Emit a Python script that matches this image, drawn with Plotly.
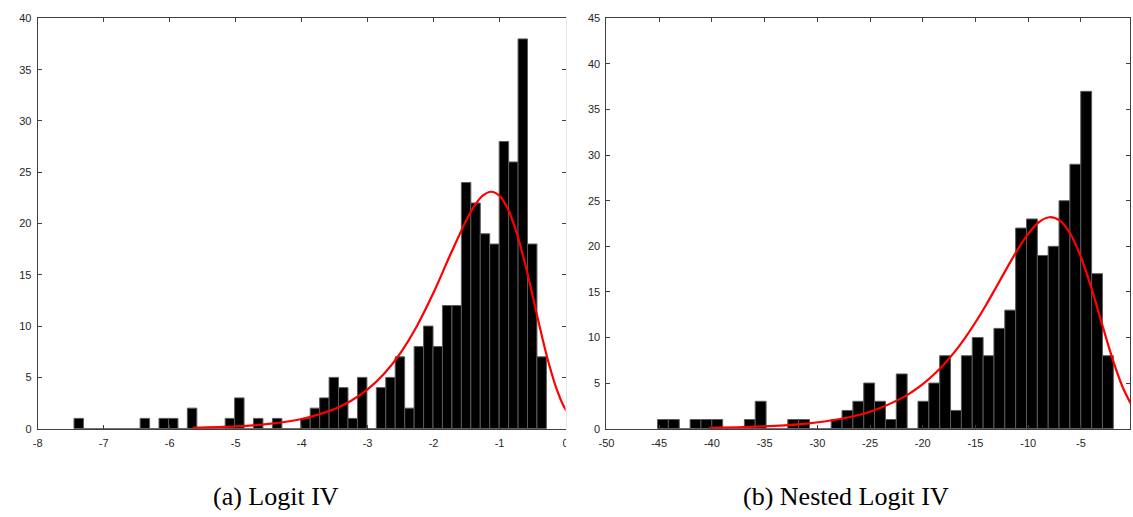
import plotly.graph_objects as go

# ---------------- data: panel (a) Logit IV ----------------
logit_bin_centers = [
    -7.378, -7.235, -7.092, -6.949, -6.806, -6.662, -6.519, -6.376, -6.233, -6.090,
    -5.946, -5.803, -5.660, -5.517, -5.374, -5.230, -5.087, -4.944, -4.801, -4.658,
    -4.514, -4.371, -4.228, -4.085, -3.942, -3.798, -3.655, -3.512, -3.369, -3.226,
    -3.082, -2.939, -2.796, -2.653, -2.510, -2.366, -2.223, -2.080, -1.937, -1.794,
    -1.650, -1.507, -1.364, -1.221, -1.078, -0.934, -0.791, -0.648, -0.505, -0.362,
]
logit_counts = [
    1, 0, 0, 0, 0, 0, 0, 1, 0, 1,
    1, 0, 2, 0, 0, 0, 1, 3, 0, 1,
    0, 1, 0, 0, 1, 2, 3, 5, 4, 1,
    5, 0, 4, 5, 7, 2, 8, 10, 8, 12,
    12, 24, 22, 19, 18, 28, 26, 38, 18, 7,
]
logit_bin_width = 0.1432
logit_fit_x = [-5.65, -5.0, -4.5, -4.0, -3.5, -3.25, -3.0, -2.75, -2.5, -2.25, -2.0,
               -1.75, -1.5, -1.375, -1.25, -1.125, -1.0, -0.875, -0.75, -0.625,
               -0.5, -0.375, -0.25, -0.125, 0.0, 0.2]
logit_fit_y = [0.09, 0.22, 0.46, 0.94, 1.91, 2.72, 3.83, 5.36, 7.40, 10.04, 13.27,
               16.90, 20.38, 21.78, 22.74, 23.10, 22.70, 21.43, 19.29, 16.39,
               13.00, 9.49, 6.28, 3.69, 1.88, 0.44]
logit_xticks = [-8, -7, -6, -5, -4, -3, -2, -1, 0]
logit_xticklabels = ["-8", "-7", "-6", "-5", "-4", "-3", "-2", "-1", "0"]
logit_yticks = [0, 5, 10, 15, 20, 25, 30, 35, 40]

# ---------------- data: panel (b) Nested Logit IV ----------------
nested_bin_centers = [
    -44.636, -43.607, -42.578, -41.549, -40.520, -39.491, -38.462, -37.433, -36.404, -35.375,
    -34.346, -33.317, -32.288, -31.259, -30.230, -29.201, -28.172, -27.143, -26.114, -25.085,
    -24.056, -23.027, -21.998, -20.969, -19.940, -18.911, -17.882, -16.853, -15.824, -14.795,
    -13.766, -12.737, -11.708, -10.679, -9.650, -8.621, -7.592, -6.563, -5.534, -4.505,
    -3.476, -2.447,
]
nested_counts = [
    1, 1, 0, 1, 1, 1, 0, 0, 1, 3,
    0, 0, 1, 1, 0, 0, 1, 2, 3, 5,
    3, 1, 6, 0, 3, 5, 8, 2, 8, 10,
    8, 11, 13, 22, 23, 19, 20, 25, 29, 37,
    17, 8,
]
nested_bin_width = 1.029
nested_fit_x = [-40.29, -37, -34, -31, -28, -25, -22, -21, -20, -19, -18, -17, -16, -15,
                -14, -13, -12, -11, -10, -9, -8, -7, -6, -5, -4, -3, -2, -1, 0]
nested_fit_y = [0.09, 0.17, 0.31, 0.56, 1.03, 1.86, 3.35, 4.05, 4.89, 5.89, 7.05, 8.40,
                9.94, 11.67, 13.57, 15.60, 17.66, 19.65, 21.37, 22.64, 23.19, 22.81,
                21.35, 18.80, 15.38, 11.46, 7.64, 4.43, 2.17]
nested_xticks = [-50, -45, -40, -35, -30, -25, -20, -15, -10, -5, 0]
nested_xticklabels = ["-50", "-45", "-40", "-35", "-30", "-25", "-20", "-15", "-10", "-5", "0"]
nested_yticks = [0, 5, 10, 15, 20, 25, 30, 35, 40, 45]

captions = ["(a) Logit IV", "(b) Nested Logit IV"]

# ---------------- figure ----------------
W, H = 1133, 517
AXC = "#404040"
TXT = "#262626"
tick_font = dict(family="Liberation Sans, Arial, sans-serif", size=11, color=TXT)

fig = go.Figure()

bar_style = dict(marker=dict(color="black", line=dict(color="#5a5a5a", width=1)),
                 showlegend=False, hoverinfo="skip")
fit_style = dict(mode="lines", line=dict(color="#ff0000", width=2.2, shape="spline"),
                 showlegend=False, hoverinfo="skip")

fig.add_trace(go.Bar(x=logit_bin_centers, y=logit_counts, width=logit_bin_width,
                     xaxis="x", yaxis="y", **bar_style))
fig.add_trace(go.Scatter(x=logit_fit_x, y=logit_fit_y, xaxis="x", yaxis="y", **fit_style))
fig.add_trace(go.Bar(x=nested_bin_centers, y=nested_counts, width=nested_bin_width,
                     xaxis="x2", yaxis="y2", **bar_style))
fig.add_trace(go.Scatter(x=nested_fit_x, y=nested_fit_y, xaxis="x2", yaxis="y2", **fit_style))

y_dom = [1 - 432.7 / H, 1 - 12.7 / H]

common = dict(showline=True, linecolor=AXC, linewidth=1, mirror="ticks",
              ticks="inside", ticklen=4, tickwidth=1, tickcolor=AXC,
              showgrid=False, zeroline=False, tickfont=tick_font)

fig.update_layout(
    width=W, height=H,
    margin=dict(l=0, r=0, t=0, b=0),
    paper_bgcolor="white", plot_bgcolor="white",
    barmode="overlay",
    xaxis=dict(domain=[30 / W, 563 / W], range=[-8, 0], tickvals=logit_xticks,
               ticktext=logit_xticklabels, anchor="y", ticklabelstandoff=4, **common),
    yaxis=dict(domain=y_dom, range=[0, 40], tickvals=logit_yticks, anchor="x",
               ticklabelstandoff=3, **common),
    xaxis2=dict(domain=[604.3 / W, 1.0], range=[-50, -0.35], tickvals=nested_xticks,
                ticktext=nested_xticklabels, anchor="y2", ticklabelstandoff=4, **common),
    yaxis2=dict(domain=y_dom, range=[0, 45], tickvals=nested_yticks, anchor="x2",
                ticklabelstandoff=3, **common),
    shapes=[dict(type="rect", xref="paper", yref="paper",
                 x0=563.6 / W, x1=578 / W, y0=0, y1=1,
                 fillcolor="white", line=dict(width=0), layer="above")],
    annotations=[
        dict(text=captions[0], x=270.5 / W, y=1 - 502 / H, xref="paper", yref="paper",
             xanchor="center", yanchor="middle", showarrow=False,
             font=dict(family="Liberation Serif, Times New Roman, serif", size=26, color="black")),
        dict(text=captions[1], x=846 / W, y=1 - 502 / H, xref="paper", yref="paper",
             xanchor="center", yanchor="middle", showarrow=False,
             font=dict(family="Liberation Serif, Times New Roman, serif", size=26, color="black")),
    ],
)

fig.write_html(
    "out.html",
    config={"responsive": False, "displayModeBar": False},
    post_script="document.body.style.margin='0';document.body.style.padding='0';"
                "document.body.style.overflow='hidden';"
                "document.documentElement.style.overflow='hidden';",
)
